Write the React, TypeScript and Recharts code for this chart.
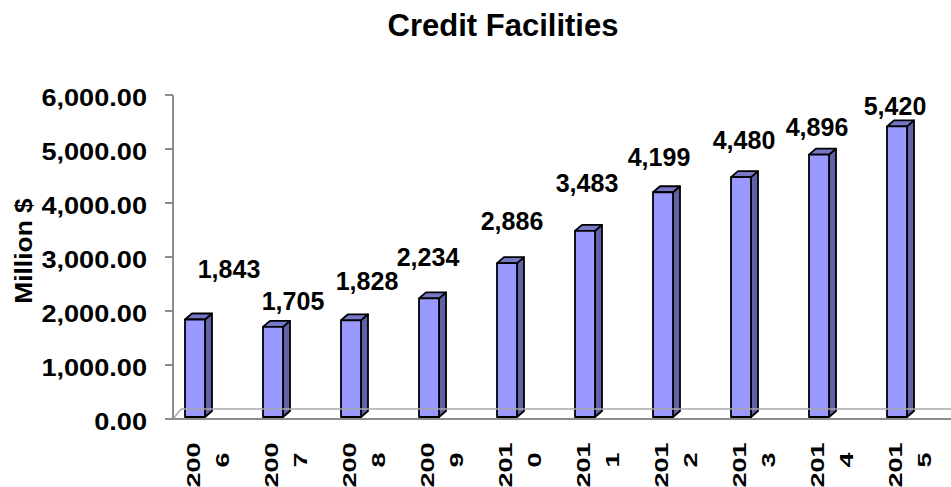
import React from "react";
import { BarChart, Bar, XAxis, YAxis, LabelList, ReferenceLine } from "recharts";

const years = ["2006", "2007", "2008", "2009", "2010", "2011", "2012", "2013", "2014", "2015"];
const facilities = [1843, 1705, 1828, 2234, 2886, 3483, 4199, 4480, 4896, 5420];
const yTicks = [0, 1000, 2000, 3000, 4000, 5000, 6000];

// where Excel dropped each data label, relative to the bar's front top
const labelNudgeX = [34, 20, 16, -1, 5, 2, -4, 3, -2, -2];
const labelNudgeUp = [50, 26, 39, 41, 42, 48, 35, 37, 28, 20];

const data = years.map((year, i) => ({ year, value: facilities[i] }));

const FONT = "'Liberation Sans', Arial, sans-serif";
const AXIS_GREY = "#8c8c8c";

function Bar3D(props: any) {
  const { x, y, width, height } = props;
  const dx = 7;
  const dy = 6;
  const bottom = y + height - 2;
  const r = x + width;
  return (
    <g stroke="#000" strokeWidth={1.8} strokeLinejoin="round">
      <path
        d={`M${r},${y} L${r + dx},${y - dy} L${r + dx},${bottom - dy} L${r},${bottom} Z`}
        fill="#6161a8"
      />
      <path
        d={`M${x},${y} L${x + dx},${y - dy} L${r + dx},${y - dy} L${r},${y} Z`}
        fill="#7777c8"
      />
      <rect x={x} y={y} width={width} height={bottom - y} fill="#9999ff" />
    </g>
  );
}

function Floor(props: any) {
  const { x1, y1, x2 } = props;
  return (
    <g stroke="#a8a8a8" strokeWidth={1.5} fill="none">
      <line x1={x1 + 8} y1={y1 - 10} x2={x2} y2={y1 - 10} />
      <line x1={x1} y1={y1} x2={x1 + 8} y2={y1 - 10} />
    </g>
  );
}

function YTick(props: any) {
  const { x, y, payload } = props;
  const text = Number(payload.value).toLocaleString("en-US", {
    minimumFractionDigits: 2,
    maximumFractionDigits: 2,
  });
  return (
    <text
      x={x}
      y={y}
      dy={11}
      textAnchor="end"
      fontFamily={FONT}
      fontWeight="bold"
      fontSize={23}
      fill="#000"
      transform={`translate(${x},0) scale(1.18,1) translate(${-x},0)`}
    >
      {text}
    </text>
  );
}

function XTick(props: any) {
  const { x, payload } = props;
  const s = String(payload.value);
  return (
    <g transform={`translate(${x},460) rotate(-90) scale(1.5,1)`}>
      <text
        x={-3.3}
        y={5}
        textAnchor="middle"
        fontFamily={FONT}
        fontWeight="bold"
        fontSize={18}
        fill="#000"
      >
        {s.slice(0, 3)}
      </text>
      <text
        x={0}
        y={34}
        textAnchor="middle"
        fontFamily={FONT}
        fontWeight="bold"
        fontSize={18}
        fill="#000"
      >
        {s.slice(3)}
      </text>
    </g>
  );
}

function ValueLabel(props: any) {
  const { x, y, width, value } = props;
  const i = facilities.indexOf(Number(value));
  const cx = x + width / 2 + (labelNudgeX[i] ?? 0);
  const cy = y - (labelNudgeUp[i] ?? 30);
  return (
    <text
      x={cx}
      y={cy + 9}
      textAnchor="middle"
      fontFamily={FONT}
      fontWeight="bold"
      fontSize={25}
      fill="#000"
    >
      {Number(value).toLocaleString("en-US")}
    </text>
  );
}

function YLabel() {
  return (
    <text
      transform="translate(23,251) rotate(-90) scale(1.1,1)"
      textAnchor="middle"
      dy={8.5}
      fontFamily={FONT}
      fontWeight="bold"
      fontSize={24}
      fill="#000"
    >
      Million $
    </text>
  );
}

export default function App() {
  return (
    <div style={{ position: "absolute", left: 0, top: 0, width: 951, height: 487, background: "#fff" }}>
      <div
        style={{
          position: "absolute",
          left: 503,
          top: 10,
          transform: "translateX(-50%)",
          fontFamily: FONT,
          fontWeight: "bold",
          fontSize: 31,
          lineHeight: 1,
          whiteSpace: "nowrap",
          color: "#000",
        }}
      >
        Credit Facilities
      </div>
      <BarChart
        width={951}
        height={487}
        data={data}
        margin={{ top: 95, right: 0, bottom: 0, left: 0 }}
        barSize={20}
      >
        <XAxis
          dataKey="year"
          interval={0}
          padding={{ left: -17, right: 15 }}
          tickLine={false}
          axisLine={{ stroke: AXIS_GREY, strokeWidth: 2 }}
          tick={<XTick />}
          height={68}
        />
        <YAxis
          width={173}
          domain={[0, 6000]}
          ticks={yTicks}
          interval={0}
          tickSize={8}
          tickMargin={18}
          axisLine={{ stroke: AXIS_GREY, strokeWidth: 2 }}
          tickLine={{ stroke: AXIS_GREY, strokeWidth: 2 }}
          tick={<YTick />}
          label={<YLabel />}
        />
        <ReferenceLine y={0} shape={<Floor />} />
        <Bar dataKey="value" shape={<Bar3D />} isAnimationActive={false}>
          <LabelList dataKey="value" content={<ValueLabel />} />
        </Bar>
      </BarChart>
    </div>
  );
}
